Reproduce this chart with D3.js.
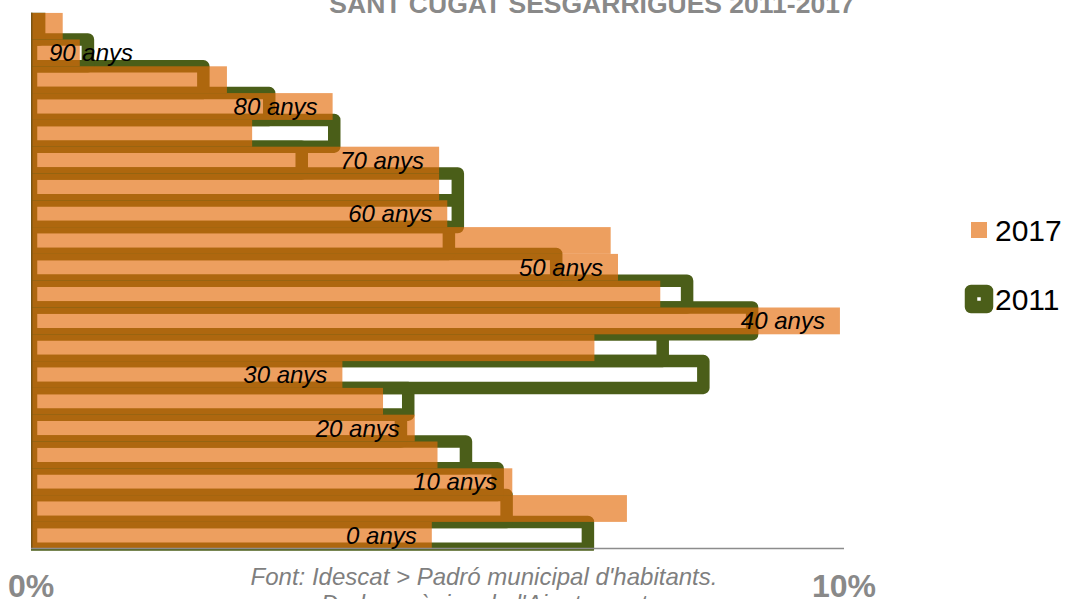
<!DOCTYPE html>
<html>
<head>
<meta charset="utf-8">
<script src="https://cdn.jsdelivr.net/npm/d3@7"></script>
<style>
  body { margin: 0; background: #fff; }
  text { font-family: "Liberation Sans", Arial, sans-serif; }
</style>
</head>
<body>
<script>
// age groups, bottom (0-4) to top (95-99)
let ageGroups = ['0-4', '5-9', '10-14', '15-19', '20-24', '25-29', '30-34', '35-39', '40-44', '45-49',
  '50-54', '55-59', '60-64', '65-69', '70-74', '75-79', '80-84', '85-89', '90-94', '95-99']
let ageLabels = ['0 anys', '', '10 anys', '', '20 anys', '', '30 anys', '', '40 anys', '',
  '50 anys', '', '60 anys', '', '70 anys', '', '80 anys', '', '90 anys', '']

// % of population per age group
let pct2017 = [4.93, 7.33, 5.92, 5.00, 4.72, 4.33, 3.83, 6.93, 9.95, 7.74,
  7.22, 7.13, 5.12, 5.02, 5.02, 2.72, 3.71, 2.41, 0.60, 0.39]
let pct2011 = [6.85, 5.85, 5.74, 5.35, 4.55, 4.64, 8.27, 7.77, 8.87, 8.07,
  6.46, 5.14, 5.25, 5.25, 3.33, 3.73, 2.93, 2.12, 0.70, 0.10]

let axisTicks = [0, 10]
let seriesNames = ['2017', '2011']
let titleText = 'SANT CUGAT SESGARRIGUES 2011-2017'
let sourceLines = ["Font: Idescat > Padró municipal d'habitants.", "Dades pròpies de l'Ajuntament"]

let orange = '#E46C0A'
let green = '#4B5E19'
let grey = '#898989'

let svg = d3.select('body').append('svg')
  .attr('width', 1068)
  .attr('height', 599)

let x = d3.scaleLinear().domain([0, 10]).range([31, 844])
let y = d3.scaleBand().domain(ageGroups).range([548.7, 12.7]).padding(0)

svg.append('clipPath').attr('id', 'plotClip')
  .append('rect')
  .attr('x', x(0))
  .attr('y', 12.7)
  .attr('width', 830)
  .attr('height', 538)

let plot = svg.append('g').attr('clip-path', 'url(#plotClip)')

// 2011: thick green outlines, no fill
plot.append('g').selectAll('rect')
  .data(ageGroups)
  .enter()
  .append('rect')
  .attr('x', x(0))
  .attr('y', d => y(d))
  .attr('width', (d, i) => x(pct2011[i]) - x(0))
  .attr('height', y.bandwidth())
  .attr('fill', 'none')
  .attr('stroke', green)
  .attr('stroke-width', 12.5)
  .attr('stroke-linejoin', 'round')

// 2017: translucent orange bars on top
plot.append('g')
  .attr('opacity', 0.65)
  .selectAll('rect')
  .data(ageGroups)
  .enter()
  .append('rect')
  .attr('x', x(0))
  .attr('y', d => y(d))
  .attr('width', (d, i) => x(pct2017[i]) - x(0))
  .attr('height', y.bandwidth())
  .attr('fill', orange)

// axis lines
svg.append('line')
  .attr('x1', x(0) + 0.75).attr('x2', x(0) + 0.75)
  .attr('y1', 12.7).attr('y2', 549)
  .attr('stroke', '#7a5412').attr('stroke-width', 1.5)
svg.append('line')
  .attr('x1', x(0)).attr('x2', x(10))
  .attr('y1', 548.5).attr('y2', 548.5)
  .attr('stroke', '#8c8c8c').attr('stroke-width', 1.3)

// age labels at the inside end of the 2017 bars
let labels = svg.append('g')
ageGroups.forEach((g, i) => {
  if (!ageLabels[i]) return
  let t = labels.append('text')
    .attr('y', y(g) + y.bandwidth() / 2)
    .attr('dy', '0.35em')
    .attr('font-size', 24)
    .attr('font-style', 'italic')
    .attr('fill', '#000')
    .text(ageLabels[i])
  let w = t.node().getComputedTextLength()
  let end = x(pct2017[i]) - 15
  if (end - w < x(0) + 18) {
    t.attr('x', x(0) + 18).attr('text-anchor', 'start')
  } else {
    t.attr('x', end).attr('text-anchor', 'end')
  }
})

// x tick labels
svg.selectAll('.tick')
  .data(axisTicks)
  .enter()
  .append('text')
  .attr('class', 'tick')
  .attr('x', d => x(d))
  .attr('y', 597)
  .attr('text-anchor', 'middle')
  .attr('font-size', 32)
  .attr('font-weight', 'bold')
  .attr('fill', grey)
  .text(d => d + '%')

// title (partly cut off at the top)
svg.append('text')
  .attr('x', 592)
  .attr('y', 13)
  .attr('text-anchor', 'middle')
  .attr('font-size', 26.5)
  .attr('font-weight', 'bold')
  .attr('fill', grey)
  .text(titleText)

// source note
svg.selectAll('.source')
  .data(sourceLines)
  .enter()
  .append('text')
  .attr('class', 'source')
  .attr('x', 484)
  .attr('y', (d, i) => 585 + i * 27)
  .attr('text-anchor', 'middle')
  .attr('font-size', 24)
  .attr('font-style', 'italic')
  .attr('fill', '#7f7f7f')
  .text(d => d)

// legend
let legend = svg.append('g')
let legendY = [230, 299]
legend.append('rect')
  .attr('x', 971).attr('y', legendY[0] - 8)
  .attr('width', 16).attr('height', 16)
  .attr('fill', orange).attr('opacity', 0.65)
legend.append('rect')
  .attr('x', 971).attr('y', legendY[1] - 8)
  .attr('width', 16).attr('height', 16)
  .attr('fill', '#fff')
  .attr('stroke', green).attr('stroke-width', 12.5)
  .attr('stroke-linejoin', 'round')
legend.selectAll('.legendText')
  .data(seriesNames)
  .enter()
  .append('text')
  .attr('class', 'legendText')
  .attr('x', 995)
  .attr('y', (d, i) => legendY[i] + 11)
  .attr('font-size', 30)
  .attr('fill', '#000')
  .text(d => d)
</script>
</body>
</html>
